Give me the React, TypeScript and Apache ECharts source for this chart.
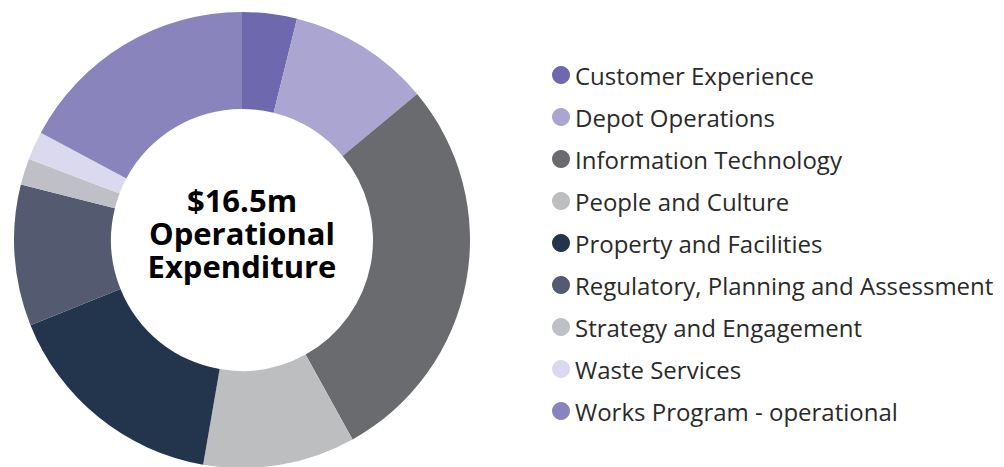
import React, { useEffect, useRef } from "react";
import * as echarts from "echarts";

const categories = [
  "Customer Experience",
  "Depot Operations",
  "Information Technology",
  "People and Culture",
  "Property and Facilities",
  "Regulatory, Planning and Assessment",
  "Strategy and Engagement",
  "Waste Services",
  "Works Program - operational",
];
// $m, total 16.5
const values = [0.64, 1.66, 4.62, 1.78, 2.67, 1.65, 0.31, 0.33, 2.84];
const colors = [
  "#6e68ae",
  "#aaa5d1",
  "#6a6b6f",
  "#bdbec0",
  "#23344d",
  "#545a6f",
  "#bfc0c7",
  "#dbd9ed",
  "#8a84bd",
];
const centerLines = ["$16.5m", "Operational", "Expenditure"];

export default function App() {
  const ref = useRef<HTMLDivElement>(null);
  useEffect(() => {
    document.body.style.margin = "0";
    const chart = echarts.init(ref.current!, null, { renderer: "svg" });
    chart.setOption({
      animation: false,
      color: colors,
      legend: {
        orient: "vertical",
        left: 547,
        top: 58,
        padding: 5,
        icon: "circle",
        itemWidth: 18,
        itemHeight: 18,
        itemGap: 18,
        textStyle: {
          fontFamily: "Open Sans",
          fontSize: 24,
          color: "#2a2a2a",
        },
        data: categories,
      },
      graphic: centerLines.map((t, i) => ({
        type: "text",
        x: 242,
        y: 200 + i * 33,
        style: {
          text: t,
          textAlign: "center",
          textVerticalAlign: "middle",
          fontFamily: "Open Sans",
          fontWeight: "bold",
          fontSize: 31,
          fill: "#000",
        },
      })),
      series: [
        {
          type: "pie",
          center: [242, 240],
          radius: [131, 228],
          startAngle: 90,
          clockwise: true,
          label: { show: false },
          labelLine: { show: false },
          itemStyle: { borderWidth: 0 },
          emphasis: { disabled: true },
          data: categories.map((name, i) => ({ name, value: values[i] })),
        },
      ],
    });
    return () => chart.dispose();
  }, []);
  return <div ref={ref} style={{ width: 1004, height: 467 }} />;
}
